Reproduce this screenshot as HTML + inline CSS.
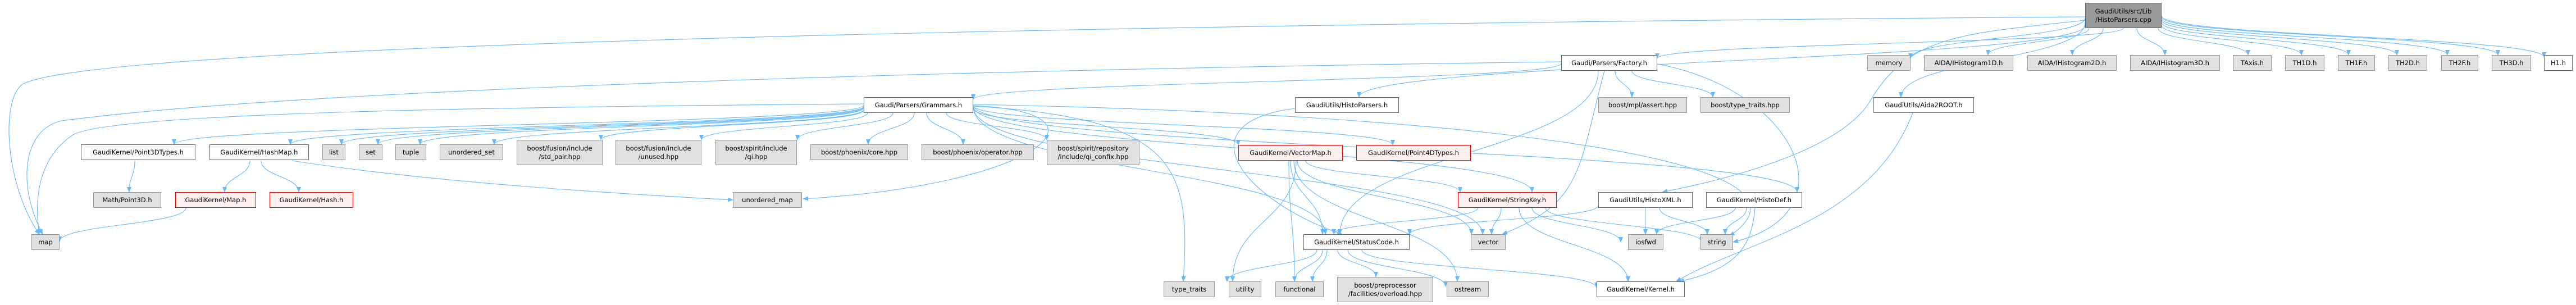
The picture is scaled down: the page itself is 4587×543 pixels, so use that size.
<!DOCTYPE html>
<html><head><meta charset="utf-8">
<style>
html,body{margin:0;padding:0;background:#fff;}
#c{position:relative;width:4587px;height:543px;overflow:hidden;}
.n{position:absolute;box-sizing:border-box;display:flex;align-items:center;justify-content:center;text-align:center;font-family:"DejaVu Sans","Liberation Sans",sans-serif;font-size:11.5px;line-height:15px;color:#000;white-space:nowrap;}
.g{background:#e0e0e0;border:1px solid #999;}
.w{background:#fff;border:1px solid #666;}
.r{background:#fff0f0;border:1px solid #f00;}
.k{background:#999;border:1px solid #666;}
svg{position:absolute;left:0;top:0;}
</style></head><body>
<div id="c">
<svg id="s" width="4587" height="543" viewBox="0 0 4587 543">
<defs><marker id="a" markerWidth="10" markerHeight="8" refX="9" refY="4" orient="auto" markerUnits="userSpaceOnUse"><path d="M0,0 L10,4 L0,8 z" fill="#63b8ff"/></marker></defs>
<g id="e" fill="none" stroke="#63b8ff" stroke-width="1.1"></g>
</svg>
<div class="n k" style="left:3713px;top:5px;width:136px;height:45px">GaudiUtils/src/Lib<br>/HistoParsers.cpp</div>

<div class="n w" style="left:2780px;top:98px;width:171px;height:28px">Gaudi/Parsers/Factory.h</div>
<div class="n g" style="left:3325px;top:98px;width:77px;height:28px">memory</div>
<div class="n g" style="left:3426px;top:98px;width:159px;height:28px">AIDA/IHistogram1D.h</div>
<div class="n g" style="left:3610px;top:98px;width:159px;height:28px">AIDA/IHistogram2D.h</div>
<div class="n g" style="left:3793px;top:98px;width:160px;height:28px">AIDA/IHistogram3D.h</div>
<div class="n g" style="left:3976px;top:98px;width:69px;height:28px">TAxis.h</div>
<div class="n g" style="left:4069px;top:98px;width:70px;height:28px">TH1D.h</div>
<div class="n g" style="left:4163px;top:98px;width:66px;height:28px">TH1F.h</div>
<div class="n g" style="left:4253px;top:98px;width:69px;height:28px">TH2D.h</div>
<div class="n g" style="left:4347px;top:98px;width:66px;height:28px">TH2F.h</div>
<div class="n g" style="left:4437px;top:98px;width:70px;height:28px">TH3D.h</div>
<div class="n w" style="left:4530px;top:98px;width:51px;height:28px">H1.h</div>

<div class="n w" style="left:1538px;top:173px;width:195px;height:28px">Gaudi/Parsers/Grammars.h</div>
<div class="n w" style="left:2306px;top:173px;width:185px;height:28px">GaudiUtils/HistoParsers.h</div>
<div class="n g" style="left:2846px;top:173px;width:158px;height:28px">boost/mpl/assert.hpp</div>
<div class="n g" style="left:3028px;top:173px;width:159px;height:28px">boost/type_traits.hpp</div>
<div class="n w" style="left:3336px;top:173px;width:179px;height:28px">GaudiUtils/Aida2ROOT.h</div>

<div class="n w" style="left:144px;top:257px;width:204px;height:28px">GaudiKernel/Point3DTypes.h</div>
<div class="n w" style="left:373px;top:257px;width:177px;height:28px">GaudiKernel/HashMap.h</div>
<div class="n g" style="left:574px;top:257px;width:41px;height:28px">list</div>
<div class="n g" style="left:639px;top:257px;width:42px;height:28px">set</div>
<div class="n g" style="left:704px;top:257px;width:55px;height:28px">tuple</div>
<div class="n g" style="left:783px;top:257px;width:113px;height:28px">unordered_set</div>
<div class="n g" style="left:920px;top:249px;width:153px;height:45px">boost/fusion/include<br>/std_pair.hpp</div>
<div class="n g" style="left:1096px;top:249px;width:153px;height:45px">boost/fusion/include<br>/unused.hpp</div>
<div class="n g" style="left:1274px;top:249px;width:145px;height:45px">boost/spirit/include<br>/qi.hpp</div>
<div class="n g" style="left:1443px;top:257px;width:174px;height:28px">boost/phoenix/core.hpp</div>
<div class="n g" style="left:1641px;top:257px;width:200px;height:28px">boost/phoenix/operator.hpp</div>
<div class="n g" style="left:1864px;top:249px;width:165px;height:45px">boost/spirit/repository<br>/include/qi_confix.hpp</div>
<div class="n r" style="left:2205px;top:258px;width:186px;height:28px">GaudiKernel/VectorMap.h</div>
<div class="n r" style="left:2415px;top:258px;width:204px;height:28px">GaudiKernel/Point4DTypes.h</div>

<div class="n g" style="left:166px;top:342px;width:121px;height:28px">Math/Point3D.h</div>
<div class="n r" style="left:312px;top:342px;width:144px;height:28px">GaudiKernel/Map.h</div>
<div class="n r" style="left:480px;top:342px;width:149px;height:28px">GaudiKernel/Hash.h</div>
<div class="n g" style="left:1305px;top:342px;width:123px;height:28px">unordered_map</div>
<div class="n r" style="left:2596px;top:342px;width:176px;height:28px">GaudiKernel/StringKey.h</div>
<div class="n w" style="left:2846px;top:342px;width:168px;height:28px">GaudiUtils/HistoXML.h</div>
<div class="n w" style="left:3038px;top:342px;width:171px;height:28px">GaudiKernel/HistoDef.h</div>

<div class="n g" style="left:56px;top:417px;width:50px;height:28px">map</div>
<div class="n w" style="left:2321px;top:417px;width:189px;height:28px">GaudiKernel/StatusCode.h</div>
<div class="n g" style="left:2619px;top:417px;width:62px;height:28px">vector</div>
<div class="n g" style="left:2899px;top:417px;width:63px;height:28px">iosfwd</div>
<div class="n g" style="left:3028px;top:417px;width:58px;height:28px">string</div>

<div class="n g" style="left:2072px;top:501px;width:91px;height:28px">type_traits</div>
<div class="n g" style="left:2188px;top:501px;width:58px;height:28px">utility</div>
<div class="n g" style="left:2271px;top:501px;width:86px;height:28px">functional</div>
<div class="n g" style="left:2381px;top:493px;width:171px;height:45px">boost/preprocessor<br>/facilities/overload.hpp</div>
<div class="n g" style="left:2576px;top:501px;width:75px;height:28px">ostream</div>
<div class="n w" style="left:2843px;top:501px;width:157px;height:28px">GaudiKernel/Kernel.h</div>
</div>
<script>
var E=[
[3713,30,60,417,'M3713,30 C3000,35 200,60 40,150 C0,180 10,330 70,417'],
[3781,50,2951,104,null],[3713,45,2420,173,null],[3713,32,3402,104,null],
[3720,50,3540,98,null],[3745,50,3690,98,null],[3805,50,3855,98,null],[3843,50,4003,98,null],
[3849,45,4098,98,null],[3849,40,4182,98,null],[3849,36,4268,98,null],[3849,33,4358,98,null],[3849,30,4448,98,null],[3849,28,4530,102,null],
[3713,40,3385,173,null],[3713,36,2960,342,'M3713,36 C3500,60 3400,60 3330,180 C3270,280 3020,330 2960,342'],
[2780,113,1733,177,null],[2780,110,80,417,'M2780,110 C2000,120 600,150 110,215 C40,230 30,330 76,417'],
[2846,126,2386,417,null],[2857,126,2675,417,'M2857,126 C2810,300 2820,360 2675,417'],
[2876,126,2906,173,null],[2906,126,3050,173,null],[2951,114,3086,431,'M2951,114 C3200,160 3300,380 3086,431'],
[1538,185,82,417,'M1538,185 C900,190 200,200 130,240 C70,280 60,350 70,417'],
[1538,187,310,257,null],[1538,189,517,257,null],[1538,190,608,257,null],[1538,191,673,257,null],
[1538,192,748,257,null],[1538,195,880,257,null],[1538,196,1070,249,null],[1545,201,1249,249,null],
[1590,201,1420,249,null],[1628,201,1546,257,null],[1650,201,1715,257,null],[1685,201,1864,249,null],
[1733,193,2205,258,null],[1733,188,2480,258,null],[1733,189,2728,342,null],[1733,190,2640,417,null],
[1733,187,3200,342,null],[1733,186,3060,417,'M1733,186 C2500,200 3300,270 3080,420'],
[1733,188,1430,354,'M1733,188 C2000,200 1850,330 1430,354'],[1733,189,2107,501,'M1733,189 C2100,210 2120,300 2107,501'],
[1733,190,2360,417,null],
[2306,193,2390,417,'M2306,193 C2100,220 2220,360 2390,417'],
[240,286,230,342,null],[445,286,400,342,null],[465,286,532,342,null],[520,286,1305,356,'M520,286 C800,330 1200,350 1305,356'],
[331,370,106,430,null],
[2295,286,2305,501,null],[2298,286,2355,417,null],[2310,286,2620,417,null],[2325,286,2600,342,null],[2308,286,2195,501,null],[2304,286,2595,501,null],
[2632,370,2375,417,null],[2673,370,2656,417,null],[2728,370,2886,431,null],[2752,370,3030,431,null],[2705,370,2899,501,null],
[2846,366,2510,417,null],[2930,370,2930,417,null],[2955,370,3040,417,null],
[3090,370,2950,417,null],[3110,370,3072,417,null],[3125,370,2990,501,'M3125,370 C3120,440 3090,480 2990,501'],
[3406,201,2985,501,'M3406,201 C3330,400 3100,430 2985,501'],
[2345,445,2185,501,null],[2355,445,2305,501,null],[2363,445,2337,501,null],[2382,445,2450,493,null],[2400,445,2574,510,null],[2425,445,2843,512,null]
];
var g=document.getElementById('e'),s='';
E.forEach(function(e){var d=e[4];if(!d){var my=(e[1]+e[3])/2;d='M'+e[0]+','+e[1]+' C'+e[0]+','+my+' '+e[2]+','+my+' '+e[2]+','+e[3];}
s+='<path d="'+d+'" marker-end="url(#a)"/>';});
g.innerHTML=s;
</script>
</body></html>
